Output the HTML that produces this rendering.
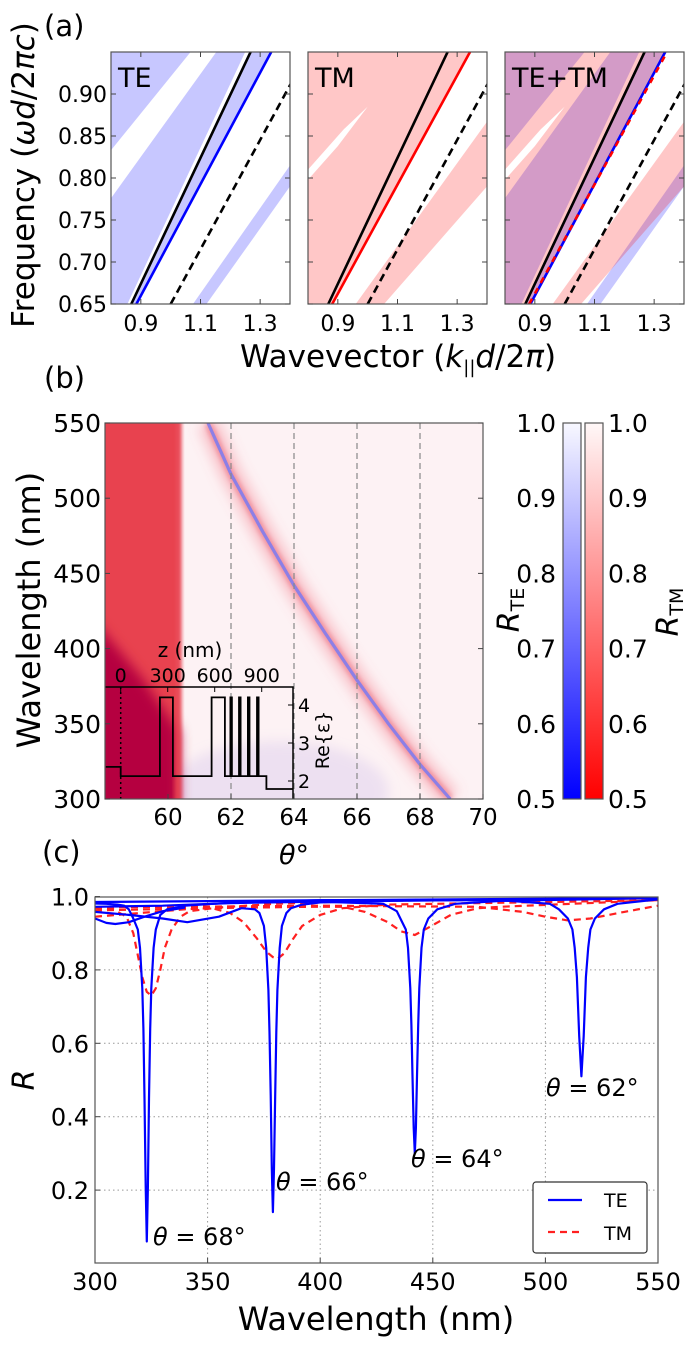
<!DOCTYPE html>
<html><head><meta charset="utf-8">
<style>
html,body{margin:0;padding:0;background:#fff;}
svg{display:block;font-family:"DejaVu Sans","Liberation Sans",sans-serif;}
</style></head>
<body>
<svg id="fig" width="691" height="1350" viewBox="0 0 691 1350" xmlns="http://www.w3.org/2000/svg">
<defs>
 <linearGradient id="gTE" x1="0" y1="1" x2="0" y2="0"><stop offset="0" stop-color="#0000ff"/><stop offset="1" stop-color="#f8f8ff"/></linearGradient>
 <linearGradient id="gTM" x1="0" y1="1" x2="0" y2="0"><stop offset="0" stop-color="#ff0000"/><stop offset="1" stop-color="#fff8f8"/></linearGradient>
 <filter id="blur6" x="-50%" y="-50%" width="200%" height="200%"><feGaussianBlur stdDeviation="6"/></filter>
 <filter id="blur3" x="-50%" y="-50%" width="200%" height="200%"><feGaussianBlur stdDeviation="2.5"/></filter>
 <clipPath id="clipB"><rect x="105" y="423" width="378" height="376"/></clipPath>
 <clipPath id="clipA0"><rect x="111" y="52" width="179" height="252"/></clipPath>
 <clipPath id="clipA1"><rect x="308" y="52" width="179" height="252"/></clipPath>
 <clipPath id="clipA2"><rect x="505" y="52" width="179" height="252"/></clipPath>
 <clipPath id="clipC"><rect x="95" y="897" width="563" height="367"/></clipPath>
</defs>
<g id="root"></g>
</svg>
<script>
// ---------- Panel (a) data (k, f) ----------
const aKTicks=[0.9,1.1,1.3];
const aFTicks=[0.65,0.70,0.75,0.80,0.85,0.90];
const teBands=[
 [[0.8,0.95],[1.067,0.95],[0.8,0.833]],
 [[0.8,0.776],[1.153,0.95],[1.25,0.95],[0.855,0.65],[0.8,0.65]],
 [[0.868,0.65],[0.885,0.65],[1.337,0.95],[1.263,0.95]],
 [[1.075,0.65],[1.12,0.65],[1.4,0.79],[1.4,0.815]]
];
const tmBands=[
 [[0.8,0.65],[0.881,0.65],[1.343,0.95],[0.8,0.95]],
 [[0.96,0.65],[1.055,0.65],[1.4,0.79],[1.4,0.867]]
];
const tmGap=[[0.8,0.798],[0.9,0.838],[1.0,0.885],[0.92,0.858],[0.8,0.81]];
const lightLine=[[0.868,0.65],[1.268,0.95]];
const teLine=[[0.885,0.65],[1.337,0.95]];
const tmLine=[[0.881,0.65],[1.343,0.95]];
const dashLine=[[1.0,0.65],[1.41,0.917]];
// ---------- Panel (b) data ----------
const bThetaTicks=[60,62,64,66,68,70];
const bWlTicks=[300,350,400,450,500,550];
const bDashTheta=[62,64,66,68];
const resTheta=[61.27,62,63,64,65,66,67,68,68.96];
const resWl=[550,516,478,442,410,379,350,323,300];
const cbTicks=[0.5,0.6,0.7,0.8,0.9,1.0];
const insetZ=[-95,0,0,250,250,333,333,580,580,665,665,700,700,710,710,755,755,765,765,812,812,822,822,870,870,880,880,930,930,1100];
const insetEps=[2.37,2.37,2.13,2.13,4.2,4.2,2.13,2.13,4.2,4.2,2.13,2.13,4.2,4.2,2.13,2.13,4.2,4.2,2.13,2.13,4.2,4.2,2.13,2.13,4.2,4.2,2.13,2.13,1.79,1.79];
const insetZTicks=[0,300,600,900];
const insetEpsTicks=[2,3,4];
// ---------- Panel (c) data ----------
const cWlTicks=[300,350,400,450,500,550];
const cRTicks=[0.2,0.4,0.6,0.8,1.0];
const te68wl=[300,305,310,313,315,317,319,320,321,321.5,322,322.5,323,323.5,324,324.5,325,326,327,329,332,340,360,400,550];
const te68R=[0.981,0.98,0.978,0.975,0.965,0.94,0.91,0.86,0.75,0.64,0.45,0.21,0.06,0.21,0.45,0.64,0.75,0.86,0.91,0.95,0.965,0.975,0.983,0.99,0.996];
const te68bwl=[300,305,309,315,322,330,340];
const te68bR=[0.94,0.928,0.925,0.93,0.945,0.96,0.97];
const te66wl=[300,315,330,341,355,365,371,373,375,376,377,377.5,378,378.5,379,379.5,380,380.5,381,382,383,385,387,392,400,430,550];
const te66R=[0.958,0.95,0.94,0.93,0.945,0.968,0.965,0.955,0.92,0.86,0.745,0.63,0.46,0.26,0.14,0.26,0.46,0.63,0.745,0.86,0.92,0.955,0.968,0.978,0.984,0.988,0.996];
const te64wl=[300,330,360,400,428,434,436,438,439,440,440.5,441,441.5,442,442.5,443,443.5,444,445,446,448,452,460,480,550];
const te64R=[0.972,0.975,0.982,0.986,0.98,0.96,0.935,0.91,0.86,0.75,0.65,0.51,0.37,0.30,0.37,0.51,0.65,0.75,0.86,0.91,0.94,0.965,0.98,0.988,0.996];
const te62wl=[300,400,480,502,506,510,512,513,514,515,516,517,518,519,520,522,526,532,550];
const te62R=[0.985,0.99,0.99,0.98,0.965,0.94,0.91,0.86,0.78,0.62,0.51,0.62,0.78,0.86,0.91,0.94,0.965,0.98,0.992];
const tm68wl=[300,308,314,317,319,321,323,325,327,329,331,334,338,342,355,380,420,550];
const tm68R=[0.968,0.965,0.945,0.9,0.84,0.78,0.74,0.73,0.75,0.8,0.86,0.91,0.945,0.96,0.97,0.98,0.988,0.995];
const tm66wl=[300,320,340,352,360,366,372,376,379,381,384,388,392,400,410,430,550];
const tm66R=[0.945,0.955,0.965,0.968,0.955,0.93,0.885,0.85,0.835,0.83,0.845,0.885,0.92,0.95,0.968,0.978,0.99];
const tm64wl=[300,350,395,410,420,430,436,442,448,458,470,480,550];
const tm64R=[0.962,0.968,0.972,0.972,0.958,0.93,0.905,0.895,0.915,0.95,0.968,0.972,0.99];
const tm62wl=[300,400,470,490,500,510,520,535,550];
const tm62R=[0.97,0.975,0.972,0.958,0.945,0.935,0.94,0.958,0.975];

const NS="http://www.w3.org/2000/svg";
const root=document.getElementById('root');
function mk(tag,attrs,parent,txt){const e=document.createElementNS(NS,tag);for(const k in attrs)e.setAttribute(k,attrs[k]);if(txt!==undefined)e.textContent=txt;(parent||root).appendChild(e);return e;}

// ---------------- Panel (a) ----------------
const aLefts=[111,308,505];
const aTop=52,aBot=304;
function ax(i,k){return aLefts[i]+(k-0.8)*298.3;}
function ay(f){return aBot-(f-0.65)*840;}
function poly(i,pts){return pts.map(p=>ax(i,p[0]).toFixed(1)+','+ay(p[1]).toFixed(1)).join(' ');}
const panelNames=['te-panel','tm-panel','te-tm-panel'];
const panelTitles=['TE','TM','TE+TM'];
for(let i=0;i<3;i++){
 const g=mk('g',{'clip-path':'url(#clipA'+i+')'});
 
 
 if(i!==1){teBands.forEach(b=>{const p=mk('polygon',{points:poly(i,b),fill:'rgba(0,0,255,0.22)'},g);
   
   });}
 if(i!==0){tmBands.forEach(b=>{const p=mk('polygon',{points:poly(i,b),fill:'rgba(255,0,0,0.22)'},g);
   
   });
  const gp=mk('polygon',{points:poly(i,tmGap),fill:'#fff'},g);
  
  }
 const ll=mk('polyline',{points:poly(i,lightLine),stroke:'#000','stroke-width':2.6,fill:'none'},g);
 
 
 const dl=mk('polyline',{points:poly(i,dashLine),stroke:'#000','stroke-width':2.6,fill:'none','stroke-dasharray':'8,5'},g);
 
 
 if(i===0){const l=mk('polyline',{points:poly(i,teLine),stroke:'#0000ff','stroke-width':2.6,fill:'none'},g);
  
  }
 if(i===1){const l=mk('polyline',{points:poly(i,tmLine),stroke:'#ff0000','stroke-width':2.6,fill:'none'},g);
  
  }
 if(i===2){const l1=mk('polyline',{points:poly(i,teLine),stroke:'#0000ff','stroke-width':2.6,fill:'none'},g);
  
  
  const l2=mk('polyline',{points:poly(i,tmLine),stroke:'#ff0000','stroke-width':2.6,fill:'none','stroke-dasharray':'6,6'},g);
  
  }
 const fr=mk('rect',{x:aLefts[i],y:aTop,width:179,height:252,fill:'none',stroke:'#555','stroke-width':1.2});
 
 
 const t=mk('text',{x:aLefts[i]+7,y:aTop+35,'font-size':27},root,panelTitles[i]);
 
 
 aKTicks.forEach(k=>{const x=ax(i,k);mk('line',{x1:x,y1:aBot,x2:x,y2:aBot-5,stroke:'#444'});mk('line',{x1:x,y1:aTop,x2:x,y2:aTop+5,stroke:'#444'});
  const tl=mk('text',{x:x,y:aBot+27,'font-size':22,'text-anchor':'middle'},root,k.toFixed(1));
  
  });
 aFTicks.forEach(f=>{const y=ay(f);mk('line',{x1:aLefts[i],y1:y,x2:aLefts[i]+5,y2:y,stroke:'#444'});mk('line',{x1:aLefts[i]+179,y1:y,x2:aLefts[i]+174,y2:y,stroke:'#444'});});
}
aFTicks.forEach(f=>{const tl=mk('text',{x:107,y:ay(f)+8,'font-size':22,'text-anchor':'end'},root,f.toFixed(2));
 
 });
{const t=mk('text',{x:0,y:0,'font-size':31,'text-anchor':'middle',transform:'translate(34,175) rotate(-90)'},root);
 
 
 t.innerHTML='Frequency (<tspan font-style="italic">ωd</tspan>/2<tspan font-style="italic">πc</tspan>)';}
{const t=mk('text',{x:398,y:367,'font-size':31,'text-anchor':'middle'},root);
 
 
 t.innerHTML='Wavevector (<tspan font-style="italic">k</tspan><tspan font-size="18" dy="6">||</tspan><tspan font-style="italic" dy="-6">d</tspan>/2<tspan font-style="italic">π</tspan>)';}
{const t=mk('text',{x:44,y:36,'font-size':29},root,'(a)');}
{const t=mk('text',{x:44,y:388,'font-size':29},root,'(b)');}

// ---------------- Panel (b) ----------------
function bx(th){return 105+(th-58)*31.5;}
function by(wl){return 423+(550-wl)*1.504;}
const gb=mk('g',{'clip-path':'url(#clipB)'});


mk('rect',{x:105,y:423,width:378,height:376,fill:'#fdf2f4'},gb);
mk('ellipse',{cx:bx(63.5),cy:by(305),rx:110,ry:50,fill:'rgba(190,170,230,0.25)',filter:'url(#blur6)'},gb);
{const r=mk('rect',{x:100,y:418,width:bx(60.35)-100,height:390,fill:'#e8434f',filter:'url(#blur3)'},gb);
 
 }
mk('polygon',{points:[[95,by(418)],[bx(59.2),by(380)],[bx(60.35),by(345)],[bx(60.35),810],[95,810]].map(p=>p.join(',')).join(' '),fill:'#b5063f',filter:'url(#blur6)'},gb);
mk('rect',{x:bx(60.35)-4,y:418,width:6,height:390,fill:'#e8434f',filter:'url(#blur3)'},gb);
const resPts=resTheta.map((t,i)=>bx(t).toFixed(1)+','+by(resWl[i]).toFixed(1)).join(' ');
mk('polyline',{points:resPts,fill:'none',stroke:'rgba(240,110,125,0.35)','stroke-width':22,filter:'url(#blur6)'},gb);
mk('polyline',{points:resPts,fill:'none',stroke:'rgba(230,80,100,0.45)','stroke-width':8,filter:'url(#blur3)'},gb);
{const l=mk('polyline',{points:resPts,fill:'none',stroke:'#8c7fe6','stroke-width':3.2},gb);
 
 }
bDashTheta.forEach(t=>{const l=mk('line',{x1:bx(t),y1:423,x2:bx(t),y2:799,stroke:'#888','stroke-width':1.2,'stroke-dasharray':'6,4'},gb);
 
 });
// inset
function iz(z){return 120.7+z*(47/300);}
function ie(e){return 781-(e-2)*38;}
{const pts=insetZ.map((z,i)=>iz(z).toFixed(1)+','+ie(insetEps[i]).toFixed(1)).join(' ');
 const l=mk('polyline',{points:pts,fill:'none',stroke:'#000','stroke-width':1.8},gb);
 
 }
mk('line',{x1:iz(0),y1:687,x2:iz(0),y2:799,stroke:'#000','stroke-width':1.5,'stroke-dasharray':'2,3'},gb);
mk('polyline',{points:'105,687 293,687 293,799',fill:'none',stroke:'#000','stroke-width':1.5});
insetZTicks.forEach(z=>{mk('line',{x1:iz(z),y1:687,x2:iz(z),y2:692,stroke:'#000'});
 const t=mk('text',{x:iz(z),y:682,'font-size':19,'text-anchor':'middle'},root,String(z));
 
 });
insetEpsTicks.forEach(e=>{mk('line',{x1:293,y1:ie(e),x2:288,y2:ie(e),stroke:'#000'});
 const t=mk('text',{x:298,y:ie(e)+7,'font-size':19},root,String(e));
 
 });
{const t=mk('text',{x:190,y:657,'font-size':20,'text-anchor':'middle'},root,'z (nm)');}
{const t=mk('text',{x:0,y:0,'font-size':19,'text-anchor':'middle',transform:'translate(329,740) rotate(-90)'},root,'Re{ε}');}
{const f=mk('rect',{x:105,y:423,width:378,height:376,fill:'none',stroke:'#555','stroke-width':1.2});}
bThetaTicks.forEach(t=>{const x=bx(t);mk('line',{x1:x,y1:799,x2:x,y2:794,stroke:'#444'});
 const tl=mk('text',{x:x,y:825,'font-size':23,'text-anchor':'middle'},root,String(t));
 
 });
bWlTicks.forEach(w=>{const y=by(w);mk('line',{x1:105,y1:y,x2:110,y2:y,stroke:'#444'});mk('line',{x1:483,y1:y,x2:478,y2:y,stroke:'#444'});
 const tl=mk('text',{x:101,y:y+9,'font-size':25,'text-anchor':'end'},root,String(w));
 
 });
{const t=mk('text',{x:0,y:0,'font-size':32,'text-anchor':'middle',transform:'translate(40,610) rotate(-90)'},root,'Wavelength (nm)');}
{const t=mk('text',{x:294,y:864,'font-size':27,'text-anchor':'middle'},root);t.innerHTML='<tspan font-style="italic">θ</tspan>°';}
{const t=mk('text',{x:42,y:862,'font-size':29},root,'(c)');}
// colorbars
function cy(v){return 799-(v-0.5)*752;}
{const r=mk('rect',{x:563,y:423,width:18,height:376,fill:'url(#gTE)',stroke:'#555','stroke-width':1.2});}
{const r=mk('rect',{x:585,y:423,width:18,height:376,fill:'url(#gTM)',stroke:'#555','stroke-width':1.2});}
cbTicks.forEach(v=>{const y=cy(v);
 const a=mk('text',{x:556,y:y+9,'font-size':25,'text-anchor':'end'},root,v.toFixed(1));
 
 
 const b=mk('text',{x:608,y:y+9,'font-size':25},root,v.toFixed(1));
 
 });
{const t=mk('text',{x:0,y:0,'font-size':30,'text-anchor':'middle',transform:'translate(519,610) rotate(-90)'},root);t.innerHTML='<tspan font-style="italic">R</tspan><tspan font-size="19" dy="5">TE</tspan>';}
{const t=mk('text',{x:0,y:0,'font-size':30,'text-anchor':'middle',transform:'translate(678,612) rotate(-90)'},root);t.innerHTML='<tspan font-style="italic">R</tspan><tspan font-size="19" dy="5">TM</tspan>';}

// ---------------- Panel (c) ----------------
function cx(wl){return 95+(wl-300)*2.252;}
function cr(R){return 1263.5-R*367;}
cWlTicks.forEach(w=>{const x=cx(w);
 if(w>300&&w<550)mk('line',{x1:x,y1:897,x2:x,y2:1263,stroke:'#999','stroke-dasharray':'1.5,3'});
 mk('line',{x1:x,y1:1263,x2:x,y2:1258,stroke:'#444'});
 const t=mk('text',{x:x,y:1290,'font-size':24,'text-anchor':'middle'},root,String(w));
 
 });
cRTicks.forEach(R=>{const y=cr(R);
 if(R<1)mk('line',{x1:95,y1:y,x2:658,y2:y,stroke:'#999','stroke-dasharray':'1.5,3'});
 mk('line',{x1:95,y1:y,x2:100,y2:y,stroke:'#444'});
 const t=mk('text',{x:89,y:y+9,'font-size':24,'text-anchor':'end'},root,R.toFixed(1));
 
 });
const gc=mk('g',{'clip-path':'url(#clipC)'});


function curve(wls,Rs,color,dash,name){const pts=wls.map((w,i)=>cx(w).toFixed(1)+','+cr(Rs[i]).toFixed(1)).join(' ');
 const a={points:pts,fill:'none',stroke:color,'stroke-width':2.2,'stroke-linejoin':'round'};if(dash)a['stroke-dasharray']='7,5';
 const l=mk('polyline',a,gc);
 
 }
curve(tm68wl,tm68R,'#ff2020',true,'tm-spectrum-68');
curve(tm66wl,tm66R,'#ff2020',true,'tm-spectrum-66');
curve(tm64wl,tm64R,'#ff2020',true,'tm-spectrum-64');
curve(tm62wl,tm62R,'#ff2020',true,'tm-spectrum-62');
curve(te68wl,te68R,'#0000ff',false,'te-spectrum-68');
curve(te68bwl,te68bR,'#0000ff',false,'te-spectrum-68-branch');
curve(te66wl,te66R,'#0000ff',false,'te-spectrum-66');
curve(te64wl,te64R,'#0000ff',false,'te-spectrum-64');
curve(te62wl,te62R,'#0000ff',false,'te-spectrum-62');
{const f=mk('rect',{x:95,y:897,width:563,height:366,fill:'none',stroke:'#555','stroke-width':1.2});}
const annTxt=['68','66','64','62'];
const annPos=[[153,1245],[276,1190],[411,1167],[546,1096]];
annTxt.forEach((a,i)=>{const t=mk('text',{x:annPos[i][0],y:annPos[i][1],'font-size':24},root);
 
 
 t.innerHTML='<tspan font-style="italic">θ</tspan> = '+a+'°';});
{const lg=mk('g',{});
 mk('rect',{x:533,y:1182,width:114,height:71,rx:3,fill:'#fff',stroke:'#333','stroke-width':1.2},lg);
 mk('line',{x1:548,y1:1200,x2:582,y2:1200,stroke:'#0000ff','stroke-width':2.2},lg);
 mk('line',{x1:548,y1:1232,x2:582,y2:1232,stroke:'#ff2020','stroke-width':2.2,'stroke-dasharray':'7,5'},lg);
 const t1=mk('text',{x:604,y:1207,'font-size':19},lg,'TE');
 const t2=mk('text',{x:604,y:1240,'font-size':19},lg,'TM');}
{const t=mk('text',{x:0,y:0,'font-size':30,'font-style':'italic','text-anchor':'middle',transform:'translate(34,1080) rotate(-90)'},root,'R');}
{const t=mk('text',{x:376,y:1330,'font-size':32,'text-anchor':'middle'},root,'Wavelength (nm)');}
</script>
</body></html>
